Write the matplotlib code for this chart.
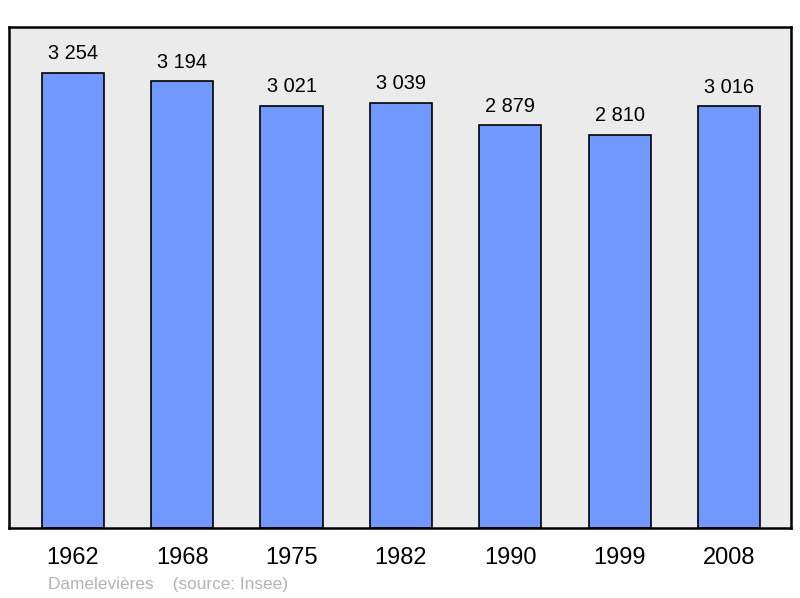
import matplotlib
matplotlib.use("Agg")
import matplotlib.pyplot as plt

plt.rcParams['font.family'] = ['Liberation Sans', 'DejaVu Sans']

years = ['1962', '1968', '1975', '1982', '1990', '1999', '2008']
population = [3254, 3194, 3021, 3039, 2879, 2810, 3016]
value_labels = ['3 254', '3 194', '3 021', '3 039', '2 879', '2 810', '3 016']

fig = plt.figure(figsize=(8, 5.98), dpi=100)
ax = fig.add_axes([9 / 800, 1 - 528 / 598, 782 / 800, 501 / 598])
ax.set_facecolor('#ebebeb')

x = range(len(years))
ax.bar(x, population, width=0.57, color='#7098ff', edgecolor='black', linewidth=1.2, zorder=2)
for xi, v, lab in zip(x, population, value_labels):
    ax.annotate(lab, (xi, v), xytext=(0, 7), textcoords='offset points',
                ha='center', va='bottom', fontsize=14.4)

ax.set_xlim(-0.585, 6.567)
ax.set_ylim(0, 3583)
ax.set_yticks([])
ax.set_xticks(list(x))
ax.set_xticklabels(years, fontsize=17)
ax.tick_params(axis='x', length=0, pad=14)
for s in ax.spines.values():
    s.set_linewidth(1.8)

fig.text(48 / 800, 1 - 584 / 598, 'Damelevières    (source: Insee)', fontsize=12.4,
         color='#b3b3b3', va='center', ha='left')

fig.savefig('out.png', dpi=100)
